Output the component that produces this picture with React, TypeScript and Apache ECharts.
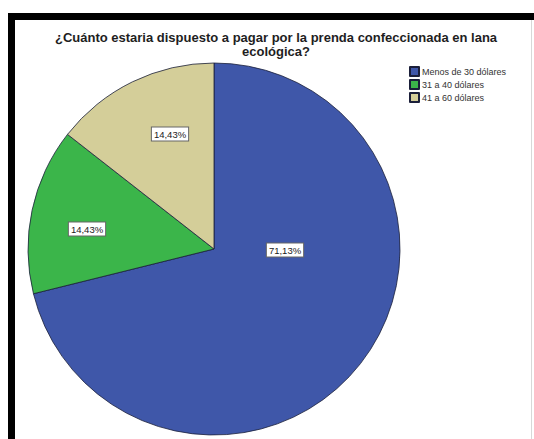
import React, { useEffect, useRef } from "react";
import * as echarts from "echarts";

const TITLE = "¿Cuánto estaria dispuesto a pagar por la prenda confeccionada en lana\necológica?";
const CATEGORIES = ["Menos de 30 dólares", "31 a 40 dólares", "41 a 60 dólares"];
const COUNTS = [69, 14, 14];
const COLORS = ["#3F57A9", "#3BB54A", "#D4CE99"];

export default function App() {
  const ref = useRef<HTMLDivElement>(null);
  useEffect(() => {
    if (!ref.current) return;
    const chart = echarts.init(ref.current, null, { renderer: "svg" });
    const total = COUNTS.reduce((a, b) => a + b, 0);
    const font = "'Liberation Sans', Arial, sans-serif";
    const labelPos = [
      [285, 250],
      [87, 229],
      [170, 134],
    ];
    chart.setOption({
      animation: false,
      backgroundColor: "#ffffff",
      title: {
        text: TITLE,
        left: 271,
        top: 25,
        textAlign: "center",
        textStyle: {
          fontFamily: font,
          fontSize: 13,
          fontWeight: "bold",
          color: "#1e1e1e",
          lineHeight: 14,
        },
      },
      legend: {
        orient: "vertical",
        left: 409,
        top: 66,
        padding: 0,
        itemWidth: 9,
        itemHeight: 9,
        itemGap: 2,
        icon: "rect",
        data: CATEGORIES,
        textStyle: { fontFamily: font, fontSize: 9, color: "#333", lineHeight: 9, padding: [0, 0, 0, -2] },
      },
      graphic: [
        { type: "rect", shape: { x: 8, y: 13, width: 526, height: 7 }, style: { fill: "#000" } },
        { type: "rect", shape: { x: 8, y: 13, width: 7, height: 426 }, style: { fill: "#000" } },
        { type: "rect", shape: { x: 531, y: 20, width: 1, height: 419 }, style: { fill: "#d8d8d8" } },
      ],
      series: [
        {
          type: "pie",
          center: [214, 249],
          radius: 186,
          startAngle: 90,
          clockwise: true,
          itemStyle: { borderColor: "#1b1f3a", borderWidth: 0.8 },
          emphasis: { disabled: true },
          label: {
            show: true,
            position: "inside",
            align: "center",
            verticalAlign: "middle",
            fontFamily: font,
            fontSize: 9.5,
            color: "#222",
            backgroundColor: "#fff",
            borderColor: "#666",
            borderWidth: 1,
            padding: [2, 2, 1, 2],
            formatter: (p: any) =>
              ((p.value / total) * 100).toFixed(2).replace(".", ",") + "%",
          },
          labelLayout: (p: any) => ({
            x: labelPos[p.dataIndex][0],
            y: labelPos[p.dataIndex][1],
            align: "center",
            verticalAlign: "middle",
          }),
          data: CATEGORIES.map((name, i) => ({
            name,
            value: COUNTS[i],
            itemStyle: { color: COLORS[i] },
          })),
        },
      ],
    });
    return () => chart.dispose();
  }, []);
  return (
    <div
      ref={ref}
      style={{ position: "absolute", left: 0, top: 0, width: 534, height: 439 }}
    />
  );
}
